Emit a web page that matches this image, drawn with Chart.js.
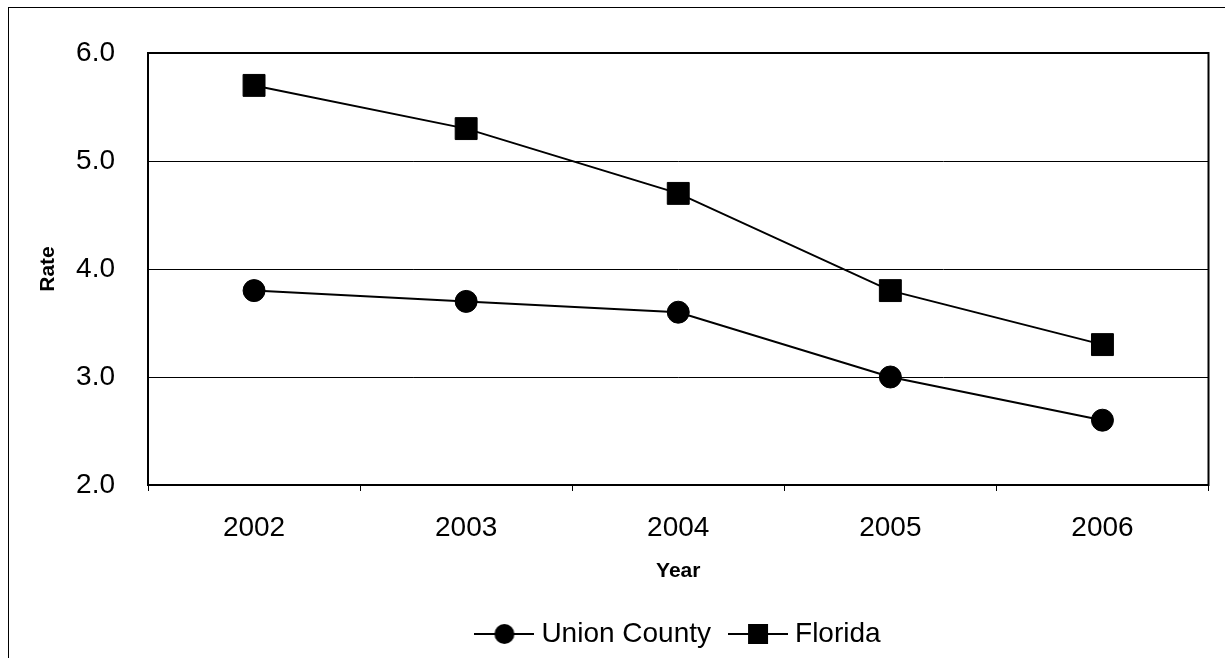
<!DOCTYPE html>
<html>
<head>
<meta charset="utf-8">
<script src="https://cdn.jsdelivr.net/npm/chart.js@4.4.1/dist/chart.umd.min.js"></script>
<style>
  html, body { margin: 0; padding: 0; background: #fff; overflow: hidden; }
  #chart { display: block; }
</style>
</head>
<body>
<canvas id="chart" width="1225" height="658"></canvas>
<script>
// du lieu doc tu hinh
const years = ['2002', '2003', '2004', '2005', '2006'];
const unionCounty = [3.8, 3.7, 3.6, 3.0, 2.6];
const florida = [5.7, 5.3, 4.7, 3.8, 3.3];
const yTicks = [2, 3, 4, 5, 6];

const FONT = "'Liberation Sans', Arial, sans-serif";

// icon cho legend: duong ke + marker
function makeLegendIcon(shape) {
  const c = document.createElement('canvas');
  c.width = 60;
  c.height = 24;
  const g = c.getContext('2d');
  g.strokeStyle = '#000';
  g.fillStyle = '#000';
  g.lineWidth = 2;
  g.beginPath();
  g.moveTo(0, 12);
  g.lineTo(60, 12);
  g.stroke();
  if (shape === 'circle') {
    g.beginPath();
    g.arc(30, 12, 10, 0, Math.PI * 2);
    g.fill();
  } else {
    g.fillRect(20, 2, 20, 20);
  }
  return c;
}
const legendIcons = [makeLegendIcon('circle'), makeLegendIcon('rect')];

// khung ngoai + vien vung ve
const framePlugin = {
  id: 'frame',
  afterLayout(chart) {
    // dich legend sang phai cho giong hinh goc
    chart.legend.left += 75;
    chart.legend.right += 75;
  },
  beforeDraw(chart) {
    const ctx = chart.ctx;
    ctx.save();
    ctx.strokeStyle = '#000';
    ctx.lineWidth = 1;
    ctx.strokeRect(8.5, 7.5, 1300, 700);
    ctx.restore();
  },
  beforeDatasetsDraw(chart) {
    const a = chart.chartArea;
    const ctx = chart.ctx;
    ctx.save();
    ctx.strokeStyle = '#000';
    ctx.lineWidth = 2;
    ctx.strokeRect(a.left, a.top, a.right - a.left, a.bottom - a.top);
    ctx.restore();
  }
};

new Chart(document.getElementById('chart').getContext('2d'), {
  type: 'line',
  data: {
    labels: years,
    datasets: [
      {
        label: 'Union County',
        data: unionCounty,
        borderColor: '#000',
        backgroundColor: '#000',
        borderWidth: 2,
        pointStyle: 'circle',
        pointRadius: 11,
        pointBorderWidth: 1,
        tension: 0
      },
      {
        label: 'Florida',
        data: florida,
        borderColor: '#000',
        backgroundColor: '#000',
        borderWidth: 2,
        pointStyle: 'rect',
        pointRadius: 15.5,
        pointBorderWidth: 1,
        tension: 0
      }
    ]
  },
  options: {
    responsive: false,
    animation: false,
    layout: {
      padding: { top: 53, right: 13, bottom: 0, left: 0 }
    },
    scales: {
      x: {
        offset: true,
        grid: {
          offset: true,
          drawOnChartArea: false,
          color: '#000',
          tickLength: 6,
          tickWidth: 1
        },
        border: { color: '#000', width: 2 },
        ticks: {
          color: '#000',
          padding: 20,
          font: { family: FONT, size: 28 }
        },
        title: {
          display: true,
          text: 'Year',
          color: '#000',
          font: { family: FONT, size: 21, weight: 'bold' },
          padding: { top: 0, bottom: 12 }
        },
        afterFit(scale) {
          scale.height = 111;
        }
      },
      y: {
        min: 2,
        max: 6,
        afterBuildTicks(scale) {
          scale.ticks = yTicks.map(v => ({ value: v }));
        },
        grid: {
          color: '#000',
          lineWidth: 1,
          drawTicks: false
        },
        border: { color: '#000', width: 2 },
        ticks: {
          color: '#000',
          padding: 33,
          font: { family: FONT, size: 28 },
          callback: function(value) {
            return Number(value).toFixed(1);
          }
        },
        title: {
          display: true,
          text: 'Rate',
          color: '#000',
          font: { family: FONT, size: 21, weight: 'bold' },
          padding: { top: 36, bottom: 0 }
        },
        afterFit(scale) {
          scale.width = 148;
        }
      }
    },
    plugins: {
      legend: {
        position: 'bottom',
        labels: {
          color: '#000',
          font: { family: FONT, size: 28 },
          usePointStyle: true,
          pointStyleWidth: 46,
          padding: 24,
          generateLabels: function(chart) {
            const items = Chart.defaults.plugins.legend.labels.generateLabels(chart);
            items.forEach((item, i) => { item.pointStyle = legendIcons[i]; });
            return items;
          }
        }
      },
      tooltip: { enabled: false }
    }
  },
  plugins: [framePlugin]
});
</script>
</body>
</html>
